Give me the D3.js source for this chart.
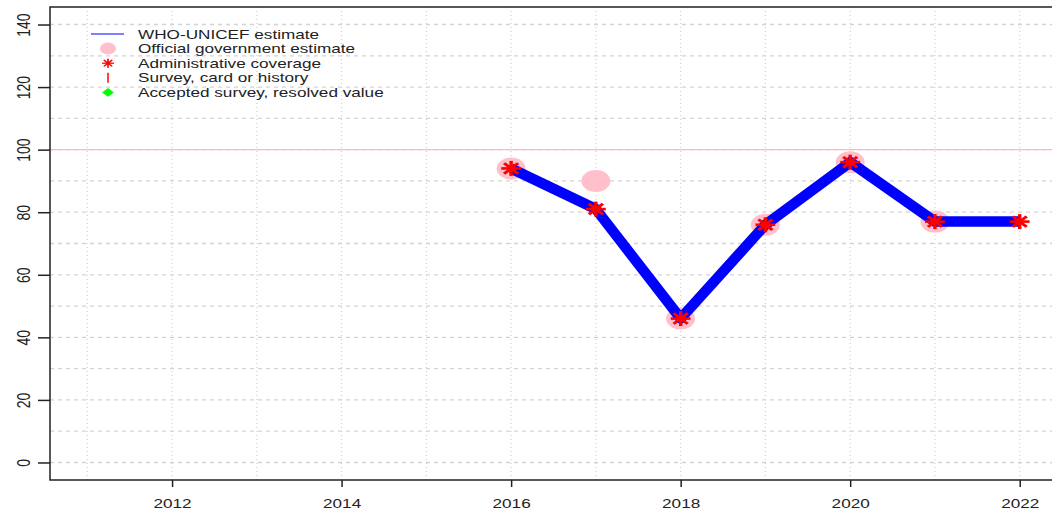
<!DOCTYPE html>
<html>
<head>
<meta charset="utf-8">
<script src="https://cdn.jsdelivr.net/npm/d3@7"></script>
<style>
  body { margin: 0; background: #fff; }
  text { font-family: "Liberation Sans", Arial, sans-serif; }
</style>
</head>
<body>
<div id="chart"></div>
<script>
// years and series
const years = [2016, 2017, 2018, 2019, 2020, 2021, 2022];
const wuenic = [94, 81, 46, 76, 96, 77, 77];
const official = [94, 90, 46, 76, 96, 77, null];
const admin = [94, 81, 46, 76, 96, 77, 77];
const xTicks = [2012, 2014, 2016, 2018, 2020, 2022];
const yTicks = [0, 20, 40, 60, 80, 100, 120, 140];
const legendLabels = ["WHO-UNICEF estimate", "Official government estimate",
  "Administrative coverage", "Survey, card or history", "Accepted survey, resolved value"];

const W = 1052, H = 513;
const pL = 50, pR = 1057, pT = 7, pB = 480;
const sx = 1.32; // the picture is stretched sideways

const svg = d3.select("#chart").append("svg")
  .attr("width", W).attr("height", H);

const x = d3.scaleLinear().domain([2010.56, 2022.44]).range([pL, pR]);
const y = d3.scaleLinear().domain([-5.6, 145.6]).range([pB, pT]);

// grid
const grid = svg.append("g");
grid.selectAll(".vg").data(d3.range(2011, 2023)).enter().append("line")
  .attr("x1", d => x(d)).attr("x2", d => x(d))
  .attr("y1", pT).attr("y2", pB)
  .attr("stroke", "#d3d3d3").attr("stroke-dasharray", "1,3").attr("stroke-width", 1.3);
grid.selectAll(".hg").data(d3.range(0, 150, 10)).enter().append("line")
  .attr("x1", pL).attr("x2", pR)
  .attr("y1", d => y(d)).attr("y2", d => y(d))
  .attr("stroke", "#d3d3d3").attr("stroke-dasharray", "4,4").attr("stroke-width", 1.3);

// 100% reference line
svg.append("line")
  .attr("x1", pL).attr("x2", pR)
  .attr("y1", y(100)).attr("y2", y(100))
  .attr("stroke", "#ffb6c1").attr("stroke-width", 1.3);

// official government estimate
svg.selectAll(".off").data(years.map((d, i) => [d, official[i]]).filter(d => d[1] != null))
  .enter().append("ellipse")
  .attr("cx", d => x(d[0])).attr("cy", d => y(d[1]))
  .attr("rx", 14.5).attr("ry", 11)
  .attr("fill", "#ffc0cb");

// WUENIC line
const line = d3.line().x(d => x(d[0])).y(d => y(d[1]));
svg.append("path")
  .datum(years.map((d, i) => [d, wuenic[i]]))
  .attr("d", line)
  .attr("fill", "none").attr("stroke", "#0000ff").attr("stroke-width", 10.5)
  .attr("stroke-linejoin", "round");

// asterisk marker (8 arms)
const star = (g, r, w) => {
  for (let k = 0; k < 4; k++) {
    const a = k * Math.PI / 4;
    g.append("line")
      .attr("x1", -r * Math.cos(a)).attr("y1", -r * Math.sin(a))
      .attr("x2", r * Math.cos(a)).attr("y2", r * Math.sin(a))
      .attr("stroke", "#ff0000").attr("stroke-width", w);
  }
};
years.forEach((d, i) => {
  const g = svg.append("g").attr("transform", `translate(${x(d)},${y(admin[i])}) scale(${sx},1)`);
  star(g, 7.5, 2.6);
});

// axes
const xAxis = svg.append("g").attr("transform", `translate(0,${pB})`)
  .call(d3.axisBottom(x).tickValues(xTicks).tickFormat(d3.format("d")).tickSize(7).tickSizeOuter(0));
xAxis.select(".domain").remove();
xAxis.selectAll("line").attr("stroke", "#222").attr("stroke-width", 1.5);
xAxis.selectAll("text")
  .attr("y", null).attr("dy", null)
  .attr("transform", `translate(0,23) scale(${sx},1)`)
  .attr("dominant-baseline", "central")
  .attr("font-size", 13).attr("fill", "#222");

const yAxis = svg.append("g").attr("transform", `translate(${pL},0)`)
  .call(d3.axisLeft(y).tickValues(yTicks).tickSize(12).tickSizeOuter(0));
yAxis.select(".domain").remove();
yAxis.selectAll("line").attr("stroke", "#222").attr("stroke-width", 1.5);
yAxis.selectAll("text")
  .attr("x", null).attr("dy", null)
  .attr("transform", `translate(-26,0) scale(1.25,1) rotate(-90)`)
  .attr("text-anchor", "middle").attr("dominant-baseline", "central")
  .attr("font-size", 14).attr("fill", "#222");

// frame
svg.append("rect")
  .attr("x", pL).attr("y", pT).attr("width", pR - pL).attr("height", pB - pT)
  .attr("fill", "none").attr("stroke", "#222").attr("stroke-width", 1.5);

// legend
const lg = svg.append("g");
const ly = i => 34 + i * 14.6;
lg.append("line").attr("x1", 91).attr("x2", 124).attr("y1", ly(0)).attr("y2", ly(0))
  .attr("stroke", "#0000ff").attr("stroke-width", 1.2);
lg.append("ellipse").attr("cx", 108).attr("cy", ly(1)).attr("rx", 8).attr("ry", 6).attr("fill", "#ffc0cb");
star(lg.append("g").attr("transform", `translate(108,${ly(2)}) scale(${sx},1)`), 4.5, 1.3);
lg.append("line").attr("x1", 108).attr("x2", 108).attr("y1", ly(3) - 5).attr("y2", ly(3) + 5)
  .attr("stroke", "#ff0000").attr("stroke-width", 1.5);
lg.append("path").attr("d", d3.symbol(d3.symbolSquare, 40)())
  .attr("transform", `translate(108,${ly(4)}) scale(${sx},1) rotate(45)`).attr("fill", "#00ff00");
lg.selectAll(".lt").data(legendLabels).enter().append("text")
  .attr("transform", (d, i) => `translate(138,${ly(i)}) scale(${sx},1)`)
  .attr("dominant-baseline", "central")
  .attr("font-size", 13).attr("fill", "#222")
  .text(d => d);
</script>
</body>
</html>
